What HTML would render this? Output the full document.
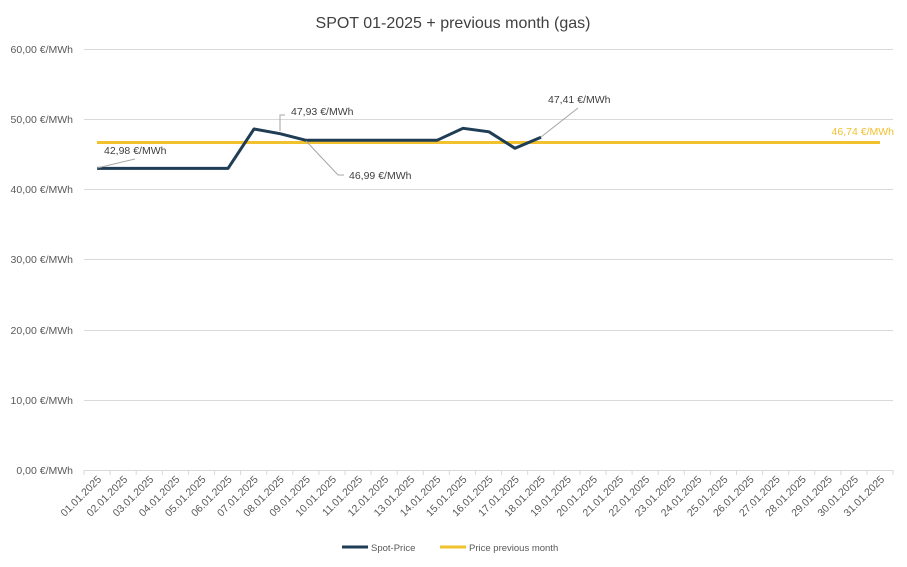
<!DOCTYPE html>
<html><head><meta charset="utf-8"><style>body{margin:0;background:#fff}svg{display:block;font-family:"Liberation Sans",sans-serif}</style></head><body>
<svg width="907" height="567" viewBox="0 0 907 567" xmlns="http://www.w3.org/2000/svg">
<rect width="907" height="567" fill="#fff"/>
<text x="453" y="28" text-anchor="middle" font-size="16" fill="#404040">SPOT 01-2025 + previous month (gas)</text>
<g stroke="#d9d9d9" stroke-width="1">
<line x1="84" x2="893" y1="49.5" y2="49.5"/><line x1="84" x2="893" y1="119.5" y2="119.5"/><line x1="84" x2="893" y1="189.5" y2="189.5"/><line x1="84" x2="893" y1="259.5" y2="259.5"/><line x1="84" x2="893" y1="330.5" y2="330.5"/><line x1="84" x2="893" y1="400.5" y2="400.5"/><line x1="84" x2="893" y1="470.5" y2="470.5"/>
</g>
<g font-size="10.5" fill="#595959" text-anchor="end">
<text x="73" y="53">60,00 €/MWh</text><text x="73" y="123">50,00 €/MWh</text><text x="73" y="193">40,00 €/MWh</text><text x="73" y="263">30,00 €/MWh</text><text x="73" y="334">20,00 €/MWh</text><text x="73" y="404">10,00 €/MWh</text><text x="73" y="474">0,00 €/MWh</text>
</g>
<g id="ticks" stroke="#d9d9d9"></g>
<g id="xl" font-size="10.5" fill="#595959"></g>
<line x1="97" x2="880" y1="142.5" y2="142.5" stroke="#f2c12e" stroke-width="3"/>
<polyline fill="none" stroke="#1f3d54" stroke-width="3" stroke-linejoin="round" points="97,168.4 123,168.4 149,168.4 175,168.4 201,168.4 228,168.4 254,129 280,133.7 306,140.3 332,140.3 358,140.3 384,140.3 410,140.3 437,140.3 463,128.3 489,131.8 515,148.3 541,137.3"/>
<g stroke="#a6a6a6" fill="none"><polyline points="97,168 135,159"/><polyline points="280,131 280,115 285,115"/><polyline points="306,141 338,175 344,175"/><polyline points="541,137 578,108"/></g>
<g font-size="10.5" fill="#404040">
<text x="104" y="154">42,98 €/MWh</text><text x="291" y="115">47,93 €/MWh</text><text x="349" y="179">46,99 €/MWh</text><text x="548" y="103">47,41 €/MWh</text>
<text x="894" y="135" text-anchor="end" fill="#f2c12e">46,74 €/MWh</text>
</g>
<line x1="342" x2="368" y1="547" y2="547" stroke="#1f3d54" stroke-width="3"/>
<text x="371" y="551" font-size="9.5" fill="#595959">Spot-Price</text>
<line x1="440" x2="466" y1="547" y2="547" stroke="#f2c12e" stroke-width="3"/>
<text x="469" y="551" font-size="9.5" fill="#595959">Price previous month</text>
<script>
var t=document.getElementById('ticks'),l=document.getElementById('xl'),ns='http://www.w3.org/2000/svg';
for(var i=0;i<=31;i++){var x=84+i*26.1;var e=document.createElementNS(ns,'line');e.setAttribute('x1',x);e.setAttribute('x2',x);e.setAttribute('y1',470);e.setAttribute('y2',475);t.appendChild(e);}
for(var i=0;i<31;i++){var x=97+i*26.1+5,y=480;var d=(i+1<10?'0':'')+(i+1)+'.01.2025';var e=document.createElementNS(ns,'text');e.setAttribute('x',x);e.setAttribute('y',y);e.setAttribute('text-anchor','end');e.setAttribute('transform','rotate(-45 '+x+' '+y+')');e.textContent=d;l.appendChild(e);}
</script>
</svg>
</body></html>
